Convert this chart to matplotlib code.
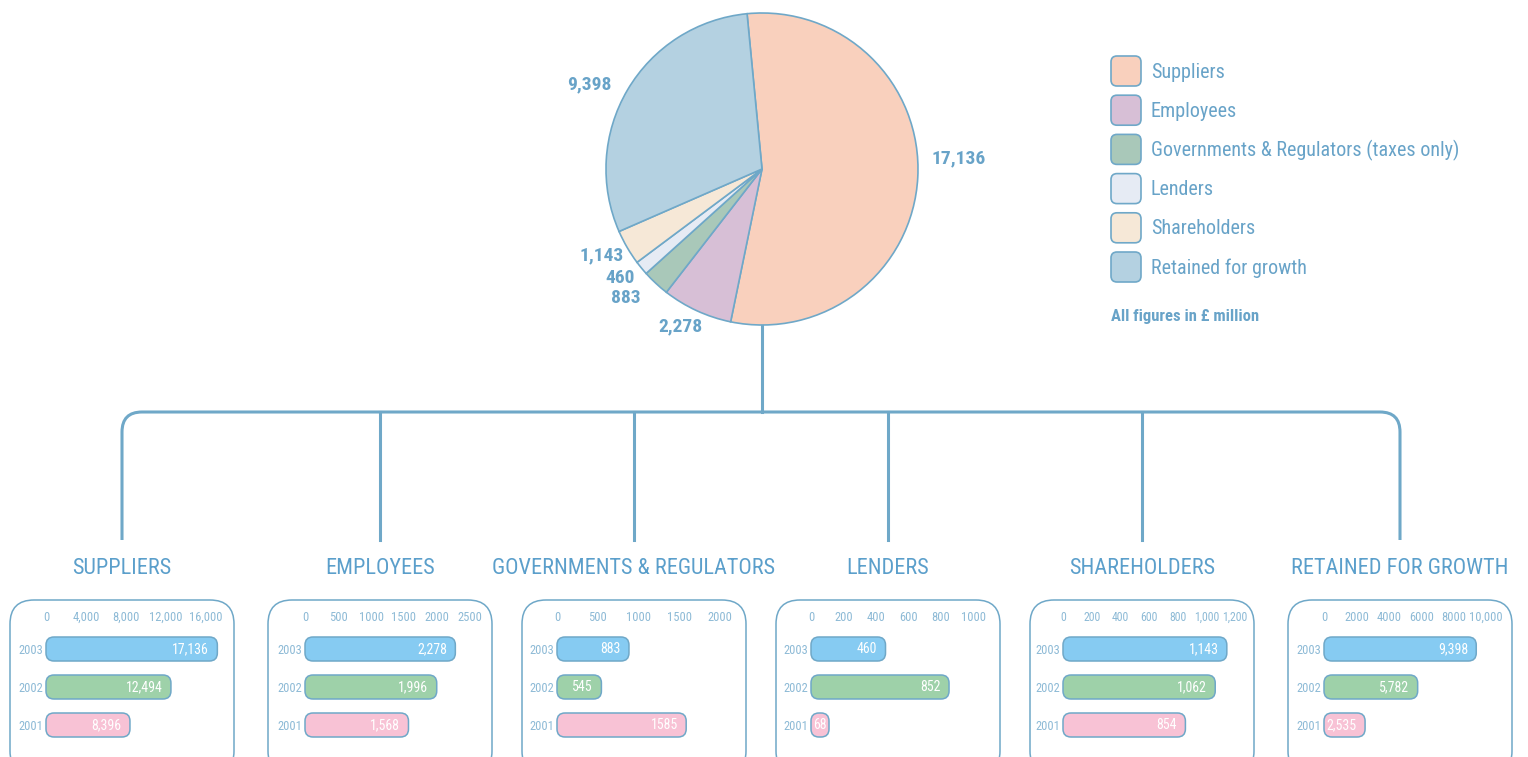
"""
Value distribution chart: pie of 2003 split plus three-year bars per stakeholder
"""

import numpy as np
import matplotlib
matplotlib.use("Agg")
import matplotlib.pyplot as plt
from matplotlib.patches import FancyBboxPatch, PathPatch
from matplotlib.path import Path

# ---- data ----
pie_labels = ["Suppliers", "Employees", "Governments & Regulators (taxes only)",
              "Lenders", "Shareholders", "Retained for growth"]
pie_values = [17136, 2278, 883, 460, 1143, 9398]
pie_colors = ["#f9d0bd", "#d7bfd6", "#a9c8b9", "#e6ebf4", "#f6e8d7", "#b4d1e1"]

years = ["2003", "2002", "2001"]
year_colors = ["#86cbf2", "#9ed1a9", "#f8c2d5"]

panel_titles = ["SUPPLIERS", "EMPLOYEES", "GOVERNMENTS & REGULATORS",
                "LENDERS", "SHAREHOLDERS", "RETAINED FOR GROWTH"]
suppliers = [17136, 12494, 8396]
employees = [2278, 1996, 1568]
governments = [883, 545, 1585]
lenders = [460, 852, 68]
shareholders = [1143, 1062, 854]
retained = [9398, 5782, 2535]
panel_values = [suppliers, employees, governments, lenders, shareholders, retained]
value_commas = [True, True, False, True, True, True]

tick_values = [
    [0, 4000, 8000, 12000, 16000],
    [0, 500, 1000, 1500, 2000, 2500],
    [0, 500, 1000, 1500, 2000],
    [0, 200, 400, 600, 800, 1000],
    [0, 200, 400, 600, 800, 1000, 1200],
    [0, 2000, 4000, 6000, 8000, 10000],
]
tick_labels = [
    ["0", "4,000", "8,000", "12,000", "16,000"],
    ["0", "500", "1000", "1500", "2000", "2500"],
    ["0", "500", "1000", "1500", "2000"],
    ["0", "200", "400", "600", "800", "1000"],
    ["0", "200", "400", "600", "800", "1,000", "1,200"],
    ["0", "2000", "4000", "6000", "8000", "10,000"],
]

# ---- style ----
W, H = 1528, 757
LINE = "#6fa8c8"
TEXT = "#68a3c8"
TITLE = "#5b9fcb"
TICK = "#8dbad6"
plt.rcParams["font.family"] = ["Liberation Sans Narrow", "Roboto Condensed", "DejaVu Sans"]

fig = plt.figure(figsize=(W / 100, H / 100), dpi=100)
bg = fig.add_axes([0, 0, 1, 1])
bg.set_xlim(0, W)
bg.set_ylim(H, 0)
bg.axis("off")


def px_axes(x, y, w, h):
    return fig.add_axes([x / W, 1 - (y + h) / H, w / W, h / H])


# ---- pie ----
pie_cx, pie_cy, pie_r = 762, 169, 156
pax = px_axes(pie_cx - pie_r, pie_cy - pie_r, 2 * pie_r, 2 * pie_r)
wedges, _ = pax.pie(pie_values, colors=pie_colors, startangle=95.5, counterclock=False,
                    radius=1, wedgeprops=dict(edgecolor=LINE, linewidth=1.2))
pax.set_xlim(-1, 1)
pax.set_ylim(-1, 1)

label_r = [1.26, 1.14, 1.2, 1.15, 1.17, 1.23]
label_nudge = [6, -2.7, -3.6, -1.8, -1.8, 4.4]
for w, v, r, dn in zip(wedges, pie_values, label_r, label_nudge):
    ang = np.deg2rad((w.theta1 + w.theta2) / 2 + dn)
    pax.text(r * np.cos(ang), r * np.sin(ang), f"{v:,}", ha="center", va="center",
             fontsize=14, fontweight="bold", color=TEXT)

# ---- legend ----
leg_x, leg_y0, leg_dy = 1111, 71, 39.2
for i, (lab, col) in enumerate(zip(pie_labels, pie_colors)):
    yc = leg_y0 + i * leg_dy
    bg.add_patch(FancyBboxPatch((leg_x, yc - 15), 30, 30,
                                boxstyle="round,pad=0,rounding_size=6",
                                facecolor=col, edgecolor=LINE, linewidth=1.2))
    bg.text(leg_x + 40, yc + 1, lab, ha="left", va="center", fontsize=14.5, color=TEXT)
bg.text(leg_x, 316, "All figures in £ million", ha="left", va="center",
        fontsize=12, fontweight="bold", color=TEXT)

# ---- tree connector ----
panel_left = [10, 268, 522, 776, 1030, 1288]
panel_w = 224
centers = [l + panel_w / 2 for l in panel_left]
bar_y, drop_y, rad = 412, 540, 20
lw = 2.2
verts = [(centers[0], drop_y), (centers[0], bar_y + rad), (centers[0], bar_y),
         (centers[0] + rad, bar_y), (centers[-1] - rad, bar_y), (centers[-1], bar_y),
         (centers[-1], bar_y + rad), (centers[-1], drop_y)]
codes = [Path.MOVETO, Path.LINETO, Path.CURVE3, Path.CURVE3, Path.LINETO,
         Path.CURVE3, Path.CURVE3, Path.LINETO]
bg.add_patch(PathPatch(Path(verts, codes), fill=False, edgecolor=LINE, linewidth=lw))
bg.plot([pie_cx, pie_cx], [pie_cy + pie_r, bar_y], color=LINE, lw=lw)
for cx in centers[1:-1]:
    bg.plot([cx, cx], [bar_y, drop_y], color=LINE, lw=lw)

# ---- panels ----
box_top = 600
row_px = 38
bar_px = 24
ax_top, ax_h = 628, 117
ax_off = [36, 37, 35, 35, 33, 36]
ax_wid = [160, 165, 163, 162, 172, 162]
tick_fs = [9, 9, 9, 9, 8.5, 9]
for k, (left, title, vals, ticks, tlabs, comma) in enumerate(
        zip(panel_left, panel_titles, panel_values, tick_values, tick_labels, value_commas)):
    cx = left + panel_w / 2
    bg.text(cx, 569, title, ha="center", va="center", fontsize=16, color=TITLE)
    bg.add_patch(FancyBboxPatch((left, box_top), panel_w, 175,
                                boxstyle="round,pad=0,rounding_size=24",
                                facecolor="white", edgecolor=LINE, linewidth=1.1))

    ax_w = ax_wid[k]
    ax = px_axes(left + ax_off[k], ax_top, ax_w, ax_h)
    xmax = ticks[-1]
    ymin = (ax_top - 649) / row_px
    ax.set_xlim(0, xmax)
    ax.set_ylim(ymin + ax_h / row_px, ymin)
    ax.patch.set_alpha(0)
    for s in ax.spines.values():
        s.set_visible(False)
    ax.xaxis.tick_top()
    ax.set_xticks(ticks)
    ax.set_xticklabels(tlabs)
    ax.set_yticks(range(len(years)))
    ax.set_yticklabels(years)
    ax.tick_params(length=0, labelsize=9, labelcolor=TICK, pad=3)
    ax.tick_params(axis="x", labelsize=tick_fs[k])
    ax.tick_params(axis="y", pad=2)

    xu = xmax / ax_w  # data units per pixel
    hb = bar_px / row_px
    for i, (v, col) in enumerate(zip(vals, year_colors)):
        wbar = max(v, 18 * xu)
        ax.add_patch(FancyBboxPatch((0, i - hb / 2), wbar, hb,
                                    boxstyle=f"round,pad=0,rounding_size={8 * xu}",
                                    mutation_aspect=(1 / row_px) / xu,
                                    facecolor=col, edgecolor=LINE, linewidth=1.1,
                                    clip_on=False))
        txt = f"{v:,}" if comma else f"{v}"
        if v / xu < 30:
            ax.text(wbar / 2, i, txt, ha="center", va="center", fontsize=10,
                    color="white")
        else:
            ax.annotate(txt, xy=(v, i), xytext=(-6, 0), textcoords="offset points",
                        ha="right", va="center", fontsize=10, color="white",
                        annotation_clip=False)

fig.savefig("out.png", dpi=100)
plt.close(fig)
